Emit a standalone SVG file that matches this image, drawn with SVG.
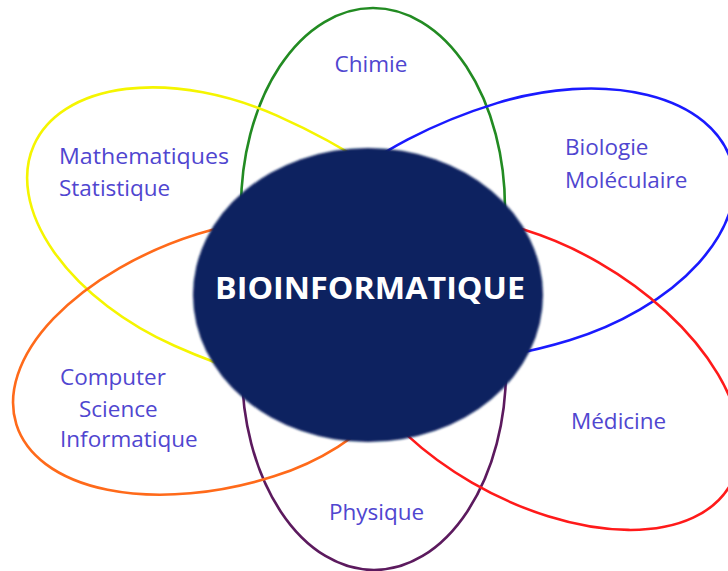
<svg xmlns="http://www.w3.org/2000/svg" width="728" height="571" viewBox="0 0 728 571">
  <defs>
    <style>
      .petal { fill: none; stroke-width: 2.6; }
      .label { font-family: "Open Sans", "Noto Sans", sans-serif; font-size: 22.5px; fill: #5046d0; }
      .core-text { font-family: "Open Sans", "Liberation Sans", sans-serif; font-size: 31px; font-weight: 700; fill: #ffffff; }
    </style>
    <filter id="soft" x="-5%" y="-5%" width="110%" height="110%">
      <feGaussianBlur stdDeviation="1.2"/>
    </filter>
  </defs>
  <rect width="728" height="571" fill="#ffffff"/>

  <!-- petals: egg shapes built from two half-ellipses, outer end along +x -->
  <g id="chimie">
    <ellipse class="petal" cx="373" cy="208" rx="132" ry="200" stroke="#228b22"/>
    <text class="label" x="371" y="72" text-anchor="middle">Chimie</text>
  </g>
  <g id="physique">
    <ellipse class="petal" cx="374" cy="370" rx="132" ry="200" stroke="#5c1a5e"/>
    <text class="label" x="329" y="520">Physique</text>
  </g>
  <g id="mathematiques">
    <path class="petal" stroke="#f5f500" transform="translate(225.7 230.7) rotate(204)"
          d="M210 0A210 126 0 0 1 0 126A300 126 0 0 1 -300 0A300 126 0 0 1 0 -126A210 126 0 0 1 210 0Z"/>
    <text class="label" x="59" y="164" textLength="170" lengthAdjust="spacingAndGlyphs">Mathematiques</text>
    <text class="label" x="59" y="196">Statistique</text>
  </g>
  <g id="biologie">
    <path class="petal" stroke="#1a1aff" transform="translate(533.2 221.7) rotate(-17)"
          d="M207 0A207 124 0 0 1 0 124A260 124 0 0 1 -260 0A260 124 0 0 1 0 -124A207 124 0 0 1 207 0Z"/>
    <text class="label" x="565" y="155">Biologie</text>
    <text class="label" x="565" y="188">Moléculaire</text>
  </g>
  <g id="informatique">
    <path class="petal" stroke="#ff6a1a" transform="translate(235.7 355.2) rotate(162.5)"
          d="M230 0A230 127 0 0 1 0 127A190 127 0 0 1 -190 0A190 127 0 0 1 0 -127A230 127 0 0 1 230 0Z"/>
    <text class="label" x="60" y="385">Computer</text>
    <text class="label" x="79" y="417">Science</text>
    <text class="label" x="60" y="447">Informatique</text>
  </g>
  <g id="medicine">
    <path class="petal" stroke="#ff1a1a" transform="translate(535.4 372.6) rotate(30)"
          d="M225 0A225 127 0 0 1 0 127A220 127 0 0 1 -220 0A220 127 0 0 1 0 -127A225 127 0 0 1 225 0Z"/>
    <text class="label" x="571" y="429">Médicine</text>
  </g>

  <!-- central topic -->
  <g id="bioinformatique">
    <ellipse cx="368" cy="295" rx="175" ry="147" fill="#0b2260" filter="url(#soft)"/>
    <text class="core-text" x="370" y="299" text-anchor="middle" textLength="310" lengthAdjust="spacingAndGlyphs">BIOINFORMATIQUE</text>
  </g>

  <g id="connectors"/>
</svg>
